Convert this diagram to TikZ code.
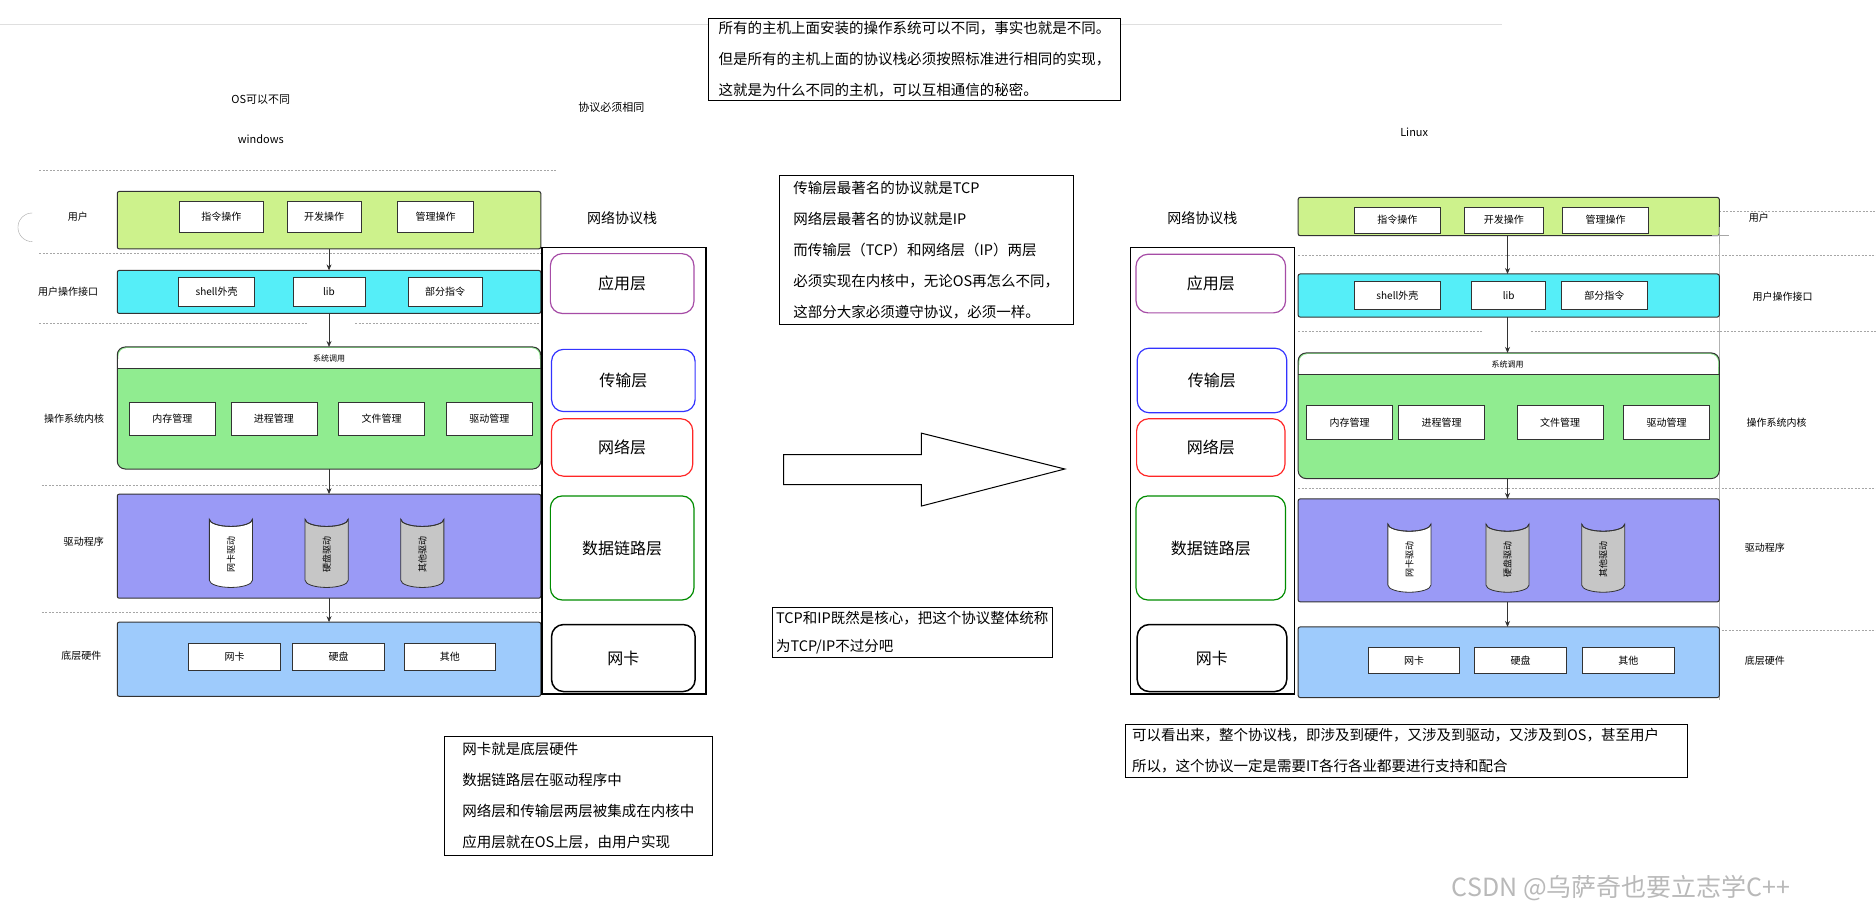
\documentclass[tikz,border=0pt]{standalone}
\usepackage{fontspec}
\setmainfont{Noto Sans CJK SC}
\usetikzlibrary{shapes.geometric,arrows.meta}
\definecolor{cuser}{HTML}{CDF28C}
\definecolor{ccyan}{HTML}{55EEF8}
\definecolor{ckern}{HTML}{90EC90}
\definecolor{cdrv}{HTML}{9A9AF6}
\definecolor{chw}{HTML}{9ECBFC}
\newcommand{\fsz}[1]{\fontsize{#1}{#1}\selectfont}
\newlength\unitpx \setlength\unitpx{1.1964pt}
\newcommand{\mycyl}[5]{% x, ytop, ybot, fill, text
 \filldraw[fill=#4,draw=black!80,line width=0.8pt] (#1-18,#2) -- (#1-18,#3) arc[start angle=180,end angle=360,x radius=18,y radius=-6] -- (#1+18,#2) arc[start angle=0,end angle=180,x radius=18,y radius=6] -- cycle;
 \draw[black!80,line width=0.8pt] (#1-18,#2) arc[start angle=180,end angle=360,x radius=18,y radius=-6];
 \node[cyt] at (#1,{(#2+#3)/2+4}) {#5};}
\tikzset{
 bar/.style={draw=black!80,line width=1pt,rounded corners=2pt},
 ib/.style={draw=black!80,fill=white,line width=0.8pt,inner sep=0pt,font=\fsz{10}},
 lbl/.style={font=\fsz{10}},
 dashl/.style={gray!70,dash pattern=on 2pt off 1.5pt,line width=0.6pt},
 ar/.style={-{Stealth[length=6pt,width=5pt]},line width=0.8pt,black!80},
 layer/.style={rounded corners=12pt,line width=1.2pt,fill=white,inner sep=0pt,font=\fsz{16}},
 tb/.style={draw=black,line width=0.9pt,fill=white,align=left,anchor=north west,inner sep=0pt},
 cyt/.style={rotate=90,font=\fsz{9}},
 tbf/.style={font=\fontsize{14.5}{31}\selectfont},
}
\begin{document}
\begin{tikzpicture}[x=1.1964pt,y=-1.1964pt]
\useasboundingbox[fill=white] (0,0) rectangle (1568,767);
\draw[gray!25,line width=0.8pt] (0,20) -- (1255,20);

% ===== LEFT =====
\node[font=\fsz{11}] (osd) at (218,83) {OS可以不同};
\node[font=\fsz{11}] (win) at (218,116) {windows};
\node[font=\fsz{11}] (xy) at (511,90) {协议必须相同};
\foreach \y/\a/\b in {142/33/465,212/33/452,406/35/452,512/35/452}{\draw[dashl] (\a,\y)--(\b,\y);}
\draw[dashl] (33,270)--(257,270); \draw[dashl] (297,270)--(452,270);
\draw[gray!70] (27,202) arc[start angle=90,end angle=270,radius=12];

\node[lbl] (lu) at (65,181) {用户};
\draw[bar,fill=cuser] (98,160) rectangle (452,208);
\node[ib,minimum width=70\unitpx,minimum height=26\unitpx] (l11) at (185,181) {指令操作};
\node[ib,minimum width=62\unitpx,minimum height=26\unitpx] (l12) at (271,181) {开发操作};
\node[ib,minimum width=63\unitpx,minimum height=26\unitpx] (l13) at (364,181) {管理操作};
\coordinate (lg1) at (275,208);

\node[lbl] (lui) at (57,244) {用户操作接口};
\draw[bar,fill=ccyan] (98,226) rectangle (452,262);
\node[ib,minimum width=63\unitpx,minimum height=24\unitpx] (l21) at (181,244) {shell外壳};
\node[ib,minimum width=60\unitpx,minimum height=24\unitpx] (l22) at (275,244) {lib};
\node[ib,minimum width=62\unitpx,minimum height=24\unitpx] (l23) at (372,244) {部分指令};
\coordinate (lc0) at (275,226); \coordinate (lc1) at (275,262);

\draw[bar,fill=ckern,rounded corners=8pt] (98,290) rectangle (452,392);
\fill[white,rounded corners=8pt] (99,291) rectangle (451,308);
\fill[white] (99,300) rectangle (451,308);
\draw[black!80,line width=0.8pt] (98,308)--(452,308);
\node[font=\fsz{8}] (lsc) at (275,300) {系统调用};
\coordinate (lk0) at (275,290); \coordinate (lk1) at (275,392);
\node[lbl] (lk) at (62,350) {操作系统内核};
\foreach \x/\t/\n in {144/内存管理/a,229/进程管理/b,319/文件管理/c,409/驱动管理/d}{
 \node[ib,minimum width=72\unitpx,minimum height=28\unitpx] (lk\n) at (\x,350) {\t};}

\node[lbl] (ld) at (70,453) {驱动程序};
\draw[bar,fill=cdrv] (98,413) rectangle (452,500);
\coordinate (ld0) at (275,413); \coordinate (ld1) at (275,500);
\mycyl{193}{434}{485}{white}{网卡驱动}
\mycyl{273}{434}{485}{gray!45}{硬盘驱动}
\mycyl{353}{434}{485}{gray!45}{其他驱动}

\node[lbl] (lh) at (68,548) {底层硬件};
\draw[bar,fill=chw] (98,520) rectangle (452,582);
\coordinate (lh0) at (275,520);
\node[ib,minimum width=77\unitpx,minimum height=22\unitpx] (lh1) at (196,549) {网卡};
\node[ib,minimum width=77\unitpx,minimum height=22\unitpx] (lh2) at (283,549) {硬盘};
\node[ib,minimum width=76\unitpx,minimum height=22\unitpx] (lh3) at (376,549) {其他};

\draw[ar] (lg1)--(lc0); \draw[ar] (lc1)--(lk0); \draw[ar] (lk1)--(ld0); \draw[ar] (ld1)--(lh0);

\node[font=\fsz{14}] (ls) at (520,182) {网络协议栈};
\draw[black,line width=1.3pt] (453,207) rectangle (590,580);
\node[layer,draw=violet!70,minimum width=120\unitpx,minimum height=50\unitpx] (la1) at (520,237) {应用层};
\node[layer,draw=blue!80,minimum width=120\unitpx,minimum height=52\unitpx] (la2) at (521,318) {传输层};
\node[layer,draw=red!85,minimum width=118\unitpx,minimum height=48\unitpx] (la3) at (520,374) {网络层};
\node[layer,draw=green!55!black,minimum width=120\unitpx,minimum height=87\unitpx] (la4) at (520,458) {数据链路层};
\node[layer,draw=black,line width=1.5pt,minimum width=120\unitpx,minimum height=56\unitpx] (la5) at (521,550) {网卡};

% ===== CENTER =====
\node[tb,tbf,inner xsep=10pt,inner ysep=3pt] (t1) at (592,15) {所有的主机上面安装的操作系统可以不同，事实也就是不同。\\但是所有的主机上面的协议栈必须按照标准进行相同的实现，\\这就是为什么不同的主机，可以互相通信的秘密。};
\node[tb,tbf,inner xsep=14pt,inner ysep=6pt] (t2) at (651,146) {传输层最著名的协议就是TCP\\网络层最著名的协议就是IP\\而传输层（TCP）和网络层（IP）两层\\必须实现在内核中，无论OS再怎么不同，\\这部分大家必须遵守协议，必须一样。};
\draw[black,line width=1pt] (655,380)--(770,380)--(770,362)--(890,392)--(770,423)--(770,405)--(655,405)--cycle;
\node[tb,font=\fontsize{14.5}{28}\selectfont,inner xsep=4pt,inner ysep=4pt] (t3) at (645,507) {TCP和IP既然是核心，把这个协议整体统称\\为TCP/IP不过分吧};
\node[tb,tbf,inner xsep=18pt,inner ysep=6pt] (t4) at (371,615) {网卡就是底层硬件\\数据链路层在驱动程序中\\网络层和传输层两层被集成在内核中\\应用层就在OS上层，由用户实现};

% ===== RIGHT =====
\node[font=\fsz{11}] (lnx) at (1182,111) {Linux};
\foreach \y/\a/\b in {177/1285/1568,213/1085/1568,408/1085/1568,527/1085/1568}{\draw[dashl] (\a,\y)--(\b,\y);}
\draw[dashl] (1085,277)--(1240,277); \draw[dashl] (1280,277)--(1568,277);
\draw[gray!60,line width=0.6pt] (1437,200)--(1437,585);

\node[font=\fsz{14}] (rs) at (1005,182) {网络协议栈};
\draw[black,line width=1.3pt] (945,207) rectangle (1082,580);
\node[layer,draw=violet!70,minimum width=125\unitpx,minimum height=49\unitpx] (ra1) at (1012,237) {应用层};
\node[layer,draw=blue!80,minimum width=125\unitpx,minimum height=54\unitpx] (ra2) at (1013,318) {传输层};
\node[layer,draw=red!85,minimum width=124\unitpx,minimum height=48\unitpx] (ra3) at (1012,374) {网络层};
\node[layer,draw=green!55!black,minimum width=125\unitpx,minimum height=87\unitpx] (ra4) at (1012,458) {数据链路层};
\node[layer,draw=black,line width=1.5pt,minimum width=125\unitpx,minimum height=56\unitpx] (ra5) at (1013,550) {网卡};

\node[lbl] (ru) at (1470,182) {用户};
\draw[bar,fill=cuser] (1085,165) rectangle (1437,197);
\node[ib,minimum width=72\unitpx,minimum height=22\unitpx] (r11) at (1168,184) {指令操作};
\node[ib,minimum width=66\unitpx,minimum height=22\unitpx] (r12) at (1257,184) {开发操作};
\node[ib,minimum width=72\unitpx,minimum height=22\unitpx] (r13) at (1342,184) {管理操作};
\draw[gray!70,line width=0.5pt] (1437,190)--(1437,204) (1431,197)--(1445,197);
\coordinate (rg1) at (1260,197);

\node[lbl] (rui) at (1490,248) {用户操作接口};
\draw[bar,fill=ccyan] (1085,229) rectangle (1437,265);
\node[ib,minimum width=72\unitpx,minimum height=24\unitpx] (r21) at (1168,247) {shell外壳};
\node[ib,minimum width=62\unitpx,minimum height=24\unitpx] (r22) at (1261,247) {lib};
\node[ib,minimum width=72\unitpx,minimum height=24\unitpx] (r23) at (1341,247) {部分指令};
\coordinate (rc0) at (1260,229); \coordinate (rc1) at (1260,265);

\draw[bar,fill=ckern,rounded corners=8pt] (1085,295) rectangle (1437,400);
\fill[white,rounded corners=8pt] (1086,296) rectangle (1436,313);
\fill[white] (1086,305) rectangle (1436,313);
\draw[black!80,line width=0.8pt] (1085,313)--(1437,313);
\node[font=\fsz{8}] (rsc) at (1260,305) {系统调用};
\coordinate (rk0) at (1260,295); \coordinate (rk1) at (1260,400);
\node[lbl] (rk) at (1485,353) {操作系统内核};
\foreach \x/\t/\n in {1128/内存管理/a,1205/进程管理/b,1304/文件管理/c,1393/驱动管理/d}{
 \node[ib,minimum width=72\unitpx,minimum height=28\unitpx] (rk\n) at (\x,353) {\t};}

\node[lbl] (rd) at (1475,458) {驱动程序};
\draw[bar,fill=cdrv] (1085,417) rectangle (1437,503);
\coordinate (rd0) at (1260,417); \coordinate (rd1) at (1260,503);
\mycyl{1178}{438}{489}{white}{网卡驱动}
\mycyl{1260}{438}{489}{gray!45}{硬盘驱动}
\mycyl{1340}{438}{489}{gray!45}{其他驱动}

\node[lbl] (rh) at (1475,552) {底层硬件};
\draw[bar,fill=chw] (1085,524) rectangle (1437,583);
\coordinate (rh0) at (1260,524);
\node[ib,minimum width=76\unitpx,minimum height=22\unitpx] (rh1) at (1182,552) {网卡};
\node[ib,minimum width=77\unitpx,minimum height=22\unitpx] (rh2) at (1271,552) {硬盘};
\node[ib,minimum width=77\unitpx,minimum height=22\unitpx] (rh3) at (1361,552) {其他};

\draw[ar] (rg1)--(rc0); \draw[ar] (rc1)--(rk0); \draw[ar] (rk1)--(rd0); \draw[ar] (rd1)--(rh0);

\node[tb,tbf,inner xsep=7pt,inner ysep=4pt,text width=458\unitpx] (t5) at (940,605) {可以看出来，整个协议栈，即涉及到硬件，又涉及到驱动，又涉及到OS，甚至用户\\所以，这个协议一定是需要IT各行各业都要进行支持和配合};

\node[font=\fsz{25},text=gray!55] (wm) at (1355,742) {CSDN @乌萨奇也要立志学C++};
\end{tikzpicture}
\end{document}
